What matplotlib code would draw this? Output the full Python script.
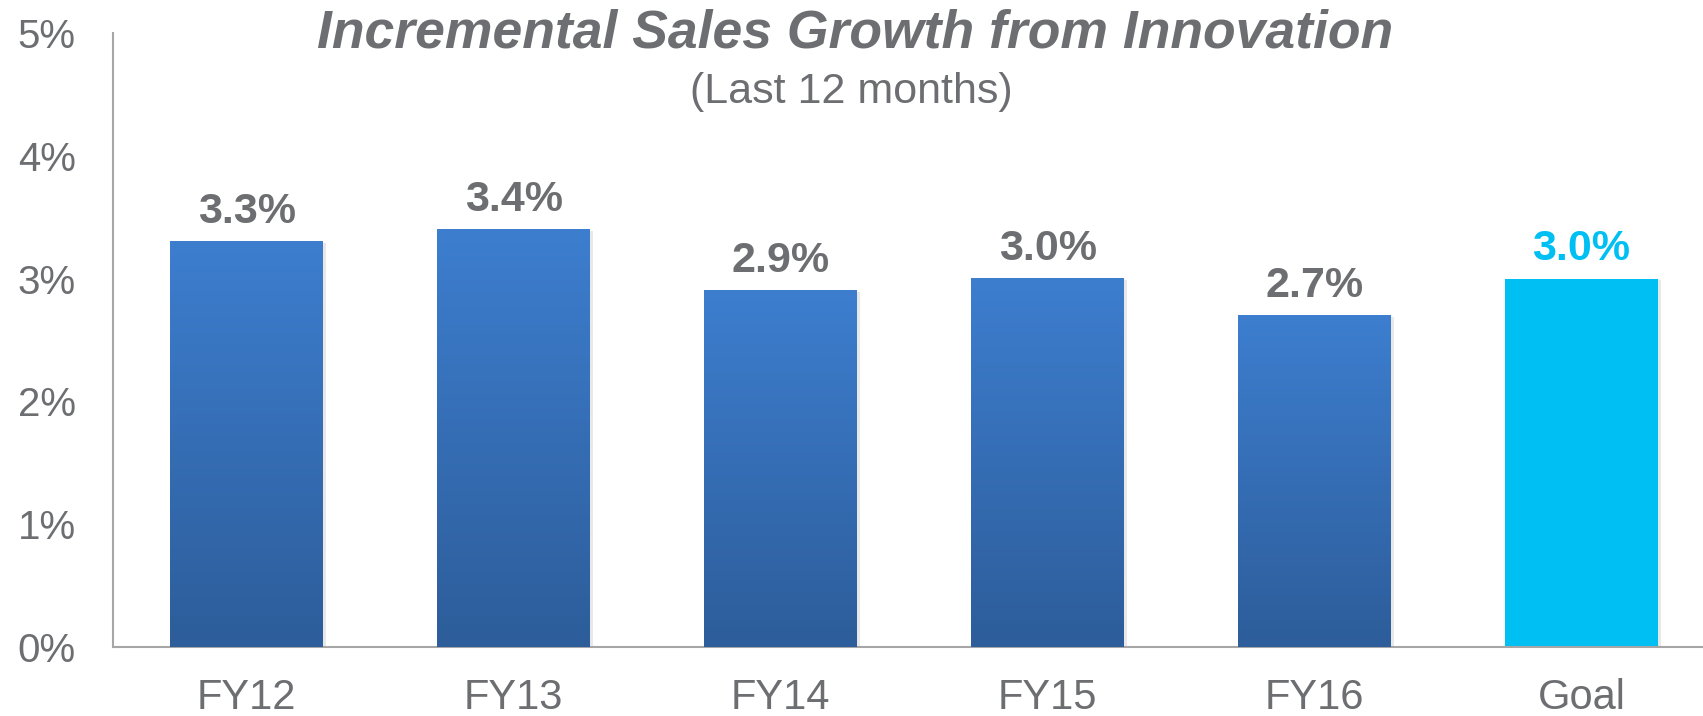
import numpy as np
import matplotlib
matplotlib.use("Agg")
import matplotlib.pyplot as plt
from matplotlib.colors import LinearSegmentedColormap
import matplotlib.patheffects as pe

# data
categories = ["FY12", "FY13", "FY14", "FY15", "FY16", "Goal"]
values = [3.3, 3.4, 2.9, 3.0, 2.7, 3.0]
labels = ["3.3%", "3.4%", "2.9%", "3.0%", "2.7%", "3.0%"]
yticks = [0, 1, 2, 3, 4, 5]
ytick_labels = ["0%", "1%", "2%", "3%", "4%", "5%"]

gray = "#6d6e71"
goal_color = "#00bff3"
blue_top = "#3d7ecf"
blue_bottom = "#2d5d9a"

plt.rcParams['font.family'] = ['Liberation Sans', 'DejaVu Sans']

fig = plt.figure(figsize=(17.03, 7.16), dpi=100)
ax = fig.add_axes([0.0664, 0.0964, 0.9336, 0.8575])

width = 0.573
x = np.arange(len(categories))
grad = LinearSegmentedColormap.from_list("bluegrad", [blue_bottom, blue_top])
shadow = [pe.SimplePatchShadow(offset=(2, -1), shadow_rgbFace="#000000", alpha=0.09), pe.Normal()]

for i, (xi, v) in enumerate(zip(x, values)):
    is_goal = categories[i] == "Goal"
    bar_col = goal_color if is_goal else blue_bottom
    ax.bar(xi, v, width=width, color=bar_col, zorder=2, path_effects=shadow)
    if not is_goal:
        # vertical gradient, lighter at the top
        g = np.linspace(1, 0, 256).reshape(-1, 1)
        ax.imshow(g, cmap=grad, aspect="auto", zorder=3,
                  extent=[xi - width / 2, xi + width / 2, 0, v], vmin=0, vmax=1)
    ax.text(xi, v + 0.08, labels[i], ha="center", va="bottom", fontsize=31,
            fontweight="bold", color=goal_color if is_goal else gray, zorder=4)

ax.set_xlim(-0.5, 5.455)
ax.set_ylim(0, 5)
ax.set_xticks(x)
ax.set_xticklabels(categories, fontsize=30, color=gray)
ax.set_yticks(yticks)
ax.set_yticklabels(ytick_labels, fontsize=29, color=gray)
ax.tick_params(axis="both", length=0)
ax.tick_params(axis="y", pad=27)
ax.tick_params(axis="x", pad=22)

for s in ["top", "right"]:
    ax.spines[s].set_visible(False)
for s in ["left", "bottom"]:
    ax.spines[s].set_color("#a6a6a6")
    ax.spines[s].set_linewidth(1.5)

fig.text(0.502, 0.953, "Incremental Sales Growth from Innovation", ha="center", va="center",
         fontsize=38.5, fontweight="bold", fontstyle="italic", color=gray)
fig.text(0.5, 0.872, "(Last 12 months)", ha="center", va="center", fontsize=31, color=gray)

fig.savefig("out.png", dpi=100)
